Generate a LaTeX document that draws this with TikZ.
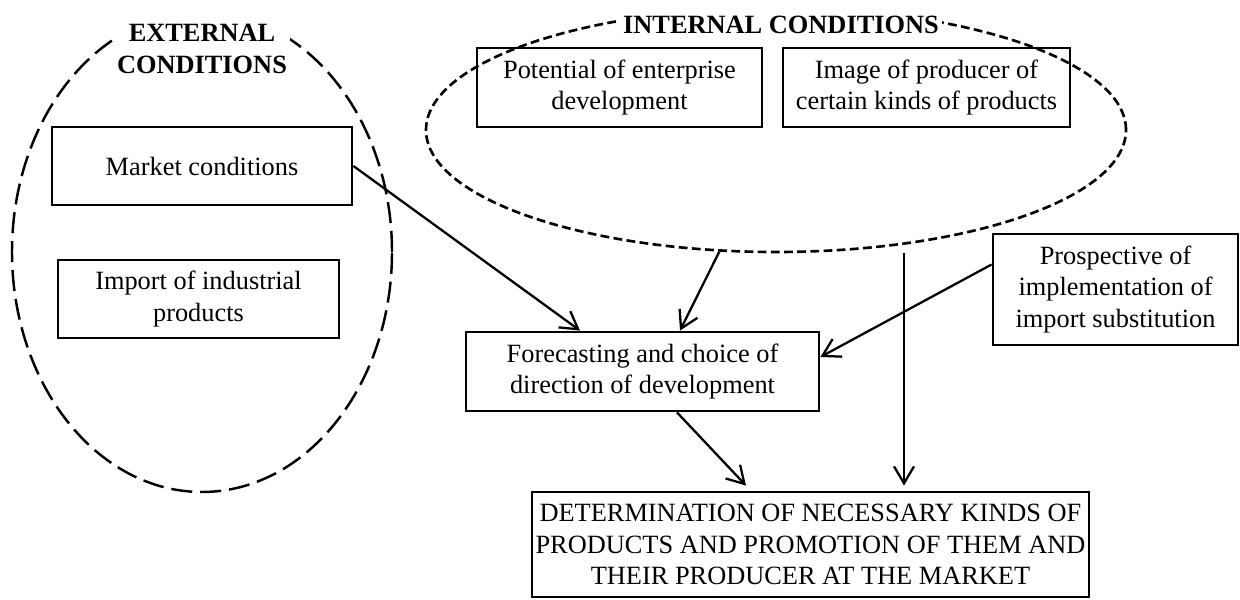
\documentclass[tikz,border=0pt]{standalone}
\usepackage{fontspec}
\setmainfont{Liberation Serif}
\usetikzlibrary{arrows.meta,shapes.geometric}

\begin{document}
\begin{tikzpicture}[
		every node/.style={font=\fontsize{15pt}{18pt}\selectfont},
		box/.style={draw, line width=1.6pt, align=center, inner sep=2pt},
		title/.style={fill=white, align=center, inner xsep=2pt, font=\fontsize{15pt}{18pt}\selectfont\bfseries},
		arr/.style={line width=1.3pt, -{Straight Barb[length=3.4mm,width=4mm]}}
	]
		\useasboundingbox (0,0) rectangle (24.8,11.98);
		\node[ellipse, draw, line width=1.4pt, dash pattern=on 12pt off 4.5pt, minimum width=7.6cm, minimum height=9.6cm] (extcond) at (4.04,6.94) {};
		\node[ellipse, draw, line width=1.5pt, dash pattern=on 5pt off 2.5pt, minimum width=14cm, minimum height=4.88cm] (intcond) at (15.52,9.38) {};
		\node[title, minimum height=1.8cm] (exttitle) at (4.04,11.0) {EXTERNAL\\CONDITIONS};
		\node[title, minimum height=1.1cm] (inttitle) at (15.62,11.48) {INTERNAL CONDITIONS};
		\node[box, minimum width=6cm, minimum height=1.56cm] (market) at (4.04,8.66) {Market conditions};
		\node[box, minimum width=5.62cm, minimum height=1.56cm] (import) at (3.97,6.0) {Import of industrial\\products};
		\node[box, minimum width=5.7cm, minimum height=1.58cm] (potential) at (12.39,10.23) {Potential of enterprise\\development};
		\node[box, minimum width=5.74cm, minimum height=1.58cm] (image) at (18.53,10.23) {Image of producer of\\certain kinds of products};
		\node[box, minimum width=4.9cm, minimum height=2.22cm] (prosp) at (22.31,6.19) {Prospective of\\implementation of\\import substitution};
		\node[box, minimum width=7.06cm, minimum height=1.58cm] (forecast) at (12.85,4.55) {Forecasting and choice of\\direction of development};
		\node[box, minimum width=9.78cm, minimum height=2.1cm] (determ) at (16.21,1.09) {DETERMINATION OF NECESSARY KINDS OF\\PRODUCTS AND PROMOTION OF THEM AND\\THEIR PRODUCER AT THE MARKET};
		\coordinate (detin) at ([xshift=1.87cm,yshift=0.1cm]determ.north);
		\draw[arr] (market.east) -- ([xshift=-1.25cm]forecast.north);
		\draw[arr] (intcond.245) -- ([xshift=0.75cm]forecast.north);
		\draw[arr] ([yshift=0.5cm]prosp.west) -- ([yshift=0.29cm]forecast.east);
		\draw[arr] (intcond.south -| detin) -- (detin);
		\draw[arr] ([xshift=0.69cm]forecast.south) -- ([xshift=-1.29cm,yshift=0.1cm]determ.north);
	\end{tikzpicture}
\end{document}
